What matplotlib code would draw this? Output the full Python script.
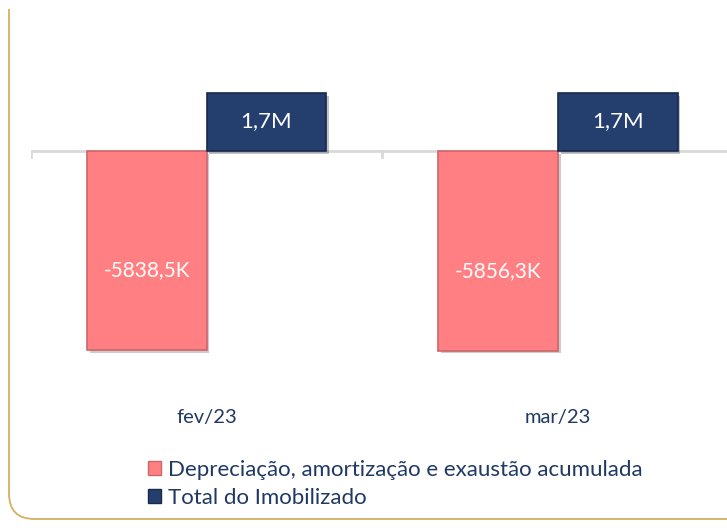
import matplotlib.pyplot as plt
import matplotlib.patheffects as pe
from matplotlib.patches import Patch, FancyBboxPatch, Rectangle

# data (values in thousands)
categories = ["fev/23", "mar/23"]
series_names = ["Depreciação, amortização e exaustão acumulada", "Total do Imobilizado"]
deprec = [-5838.5, -5856.3]
total = [1700, 1700]
deprec_labels = ["-5838,5K", "-5856,3K"]
total_labels = ["1,7M", "1,7M"]

red = "#FF7F82"
blue = "#243F6D"
navy = "#1F3864"

W, H = 727, 532
fig = plt.figure(figsize=(W / 100, H / 100), dpi=100)
plt.rcParams['font.family'] = ['Lato', 'DejaVu Sans']

# rounded gold frame (only left and bottom visible)
frame = FancyBboxPatch((9 / W, (H - 519) / H), 1.2, 1.2,
                       boxstyle="round,pad=0,rounding_size=0.035",
                       transform=fig.transFigure, fill=False,
                       edgecolor="#D9AE62", lw=1.3, mutation_aspect=W / H)
fig.patches.append(frame)
fig.patches.append(Rectangle((0, 1 - 9 / H), 1, 9 / H, transform=fig.transFigure,
                             facecolor="white", edgecolor="none"))

# axes placed so that zero line sits at y=151px, categories at 206/558px
px_per_k = 199 / 5838.5
top_px, bot_px, zero_px = 30, 360, 151
ax = fig.add_axes([30.75 / W, 1 - bot_px / H, 703 / W, (bot_px - top_px) / H])
ax.set_xlim(-0.5, 1.5)
ax.set_ylim(-(bot_px - zero_px) / px_per_k, (zero_px - top_px) / px_per_k)
ax.axis("off")

x = range(len(categories))
w = 0.34
shadow = [pe.SimplePatchShadow(offset=(2, -2), alpha=0.25), pe.Normal()]
b1 = ax.bar([i - w / 2 for i in x], deprec, w, color=red, edgecolor="#C9676A", lw=1.2, zorder=3)
b2 = ax.bar([i + w / 2 for i in x], total, w, color=blue, edgecolor="#172A4A", lw=1.2, zorder=3)
for b in list(b1) + list(b2):
    b.set_path_effects(shadow)

# zero line with category separator ticks
ax.axhline(0, color="#D9D9D9", lw=2, zorder=2)
for xb in [-0.5, 0.5, 1.5]:
    ax.plot([xb, xb], [0, -6 / px_per_k], color="#D9D9D9", lw=2, zorder=2)

for i in x:
    ax.text(i - w / 2, deprec[i] * 0.6, deprec_labels[i], color="white",
            ha="center", va="center", fontsize=15, zorder=4)
    ax.text(i + w / 2, total[i] * 0.52, total_labels[i], color="white",
            ha="center", va="center", fontsize=16, zorder=4)
    ax.text(i, -(418 - zero_px) / px_per_k, categories[i], color=navy,
            ha="center", va="center", fontsize=14.5)

handles = [Patch(facecolor=red, edgecolor="#C9676A"), Patch(facecolor=blue, edgecolor="#172A4A")]
fig.legend(handles, series_names, loc="upper left", bbox_to_anchor=(139 / W, 1 - 451 / H),
           frameon=False, fontsize=16, labelcolor=navy, handlelength=0.6, handleheight=0.6,
           handletextpad=0.3, labelspacing=0.35, borderaxespad=0)

fig.savefig("out.png", dpi=100)
